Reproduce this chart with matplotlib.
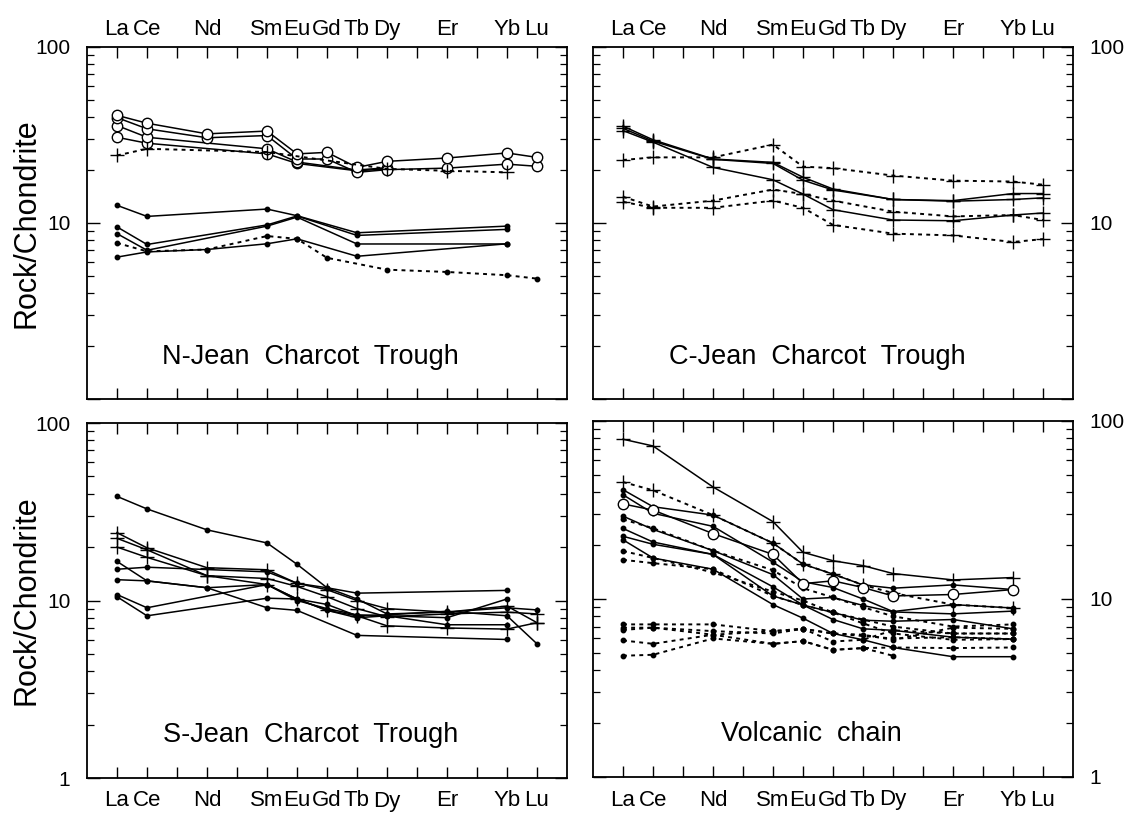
"""REE chondrite-normalised patterns for four Jean Charcot Trough groups."""

import matplotlib

matplotlib.use("Agg")

import matplotlib.pyplot as plt
from matplotlib.ticker import FixedLocator, NullFormatter

plt.rcParams["font.family"] = ["Liberation Sans", "DejaVu Sans"]

# element order used by every series below
elements = ["La", "Ce", "Nd", "Sm", "Eu", "Gd", "Tb", "Dy", "Er", "Yb", "Lu"]
atomic_numbers = [57, 58, 60, 62, 63, 64, 65, 66, 68, 70, 71]

# N-Jean Charcot Trough
north_open_1 = [40.9, 36.9, 32.1, 33.3, 24.7, 25.2, 20.7, 22.4, 23.4, 25.0, 23.6]
north_open_2 = [39.7, 34.3, 30.5, 31.4, 23.1, 23.1, 19.4, 20.1, 20.5, 21.6, 21.0]
north_open_3 = [35.8, 30.7, None, 26.4, 22.2, None, 20.0, 20.6, None, None, None]
north_open_4 = [30.7, 28.4, None, 24.7, 21.8, None, 19.8, 20.3, None, None, None]
north_plus = [24.2, 26.4, None, 25.3, None, None, None, 20.3, 19.8, 19.4, None]
north_dot_1 = [12.6, 10.9, None, 12.0, 11.0, None, 8.8, None, None, 9.6, None]
north_dot_2 = [9.5, 7.55, None, 9.75, 10.96, None, 8.5, None, None, 9.2, None]
north_dot_3 = [8.7, 7.0, None, 9.6, 10.8, None, 7.6, None, None, 7.6, None]
north_dot_4 = [6.4, 6.85, 7.07, 7.62, 8.13, None, 6.47, None, None, 7.62, None]
north_dash = [7.7, 6.9, 7.07, 8.43, 8.13, 6.34, None, 5.43, 5.27, 5.05, 4.83]

# C-Jean Charcot Trough
central_s1 = [35.5, 29.7, 23.1, 22.1, 18.2, 15.6, None, 13.6, 13.4, 14.7, 14.7]
central_s2 = [34.5, 29.2, 23.0, 21.8, 17.5, 15.4, None, 13.6, 13.3, 13.6, 13.9]
central_s3 = [33.5, 28.8, 20.7, 17.6, 14.6, 11.9, None, 10.4, 10.3, 11.1, 11.4]
central_d1 = [22.8, 23.6, 23.6, 27.9, 20.9, 20.5, None, 18.6, 17.4, 17.2, 16.5]
central_d2 = [14.1, 12.4, 13.4, 15.5, 14.6, 13.4, None, 11.6, 10.9, 11.1, 10.4]
central_d3 = [13.2, 12.2, 12.2, 13.4, 12.2, 9.75, None, 8.7, 8.5, 7.8, 8.1]

# S-Jean Charcot Trough
south_1 = [38.6, 32.8, 25.0, 21.1, 16.0, 11.8, 10.2, 8.4, 8.6, 9.1, 8.85]
south_2 = [24.1, 19.8, 15.3, 14.9, 12.5, 11.5, 10.0, 9.0, 8.6, 9.3, 7.5]
south_3 = [22.4, 19.3, 13.8, 13.3, 12.0, 10.5, 9.0, 8.1, 8.4, 8.6, 8.4]
south_4 = [20.0, 17.5, 13.8, 12.3, 10.2, 8.8, 8.2, 7.2, 7.0, 6.9, 7.5]
south_5 = [16.6, 12.9, 11.8, 9.1, 8.8, None, 6.36, None, None, 6.03, None]
south_6 = [15.0, 15.4, None, 14.5, 12.5, 11.8, 11.0, None, None, 11.4, None]
south_7 = [13.1, 12.9, 11.8, 12.3, 10.0, 9.0, 8.3, 8.2, 8.0, 10.2, None]
south_8 = [10.8, 9.1, None, 12.3, 10.2, 9.5, 8.2, 8.3, 8.7, 8.2, 5.7]
south_9 = [10.5, 8.2, None, 10.3, 10.2, 8.8, 8.0, 8.2, 7.3, 7.3, None]

# Volcanic chain
volc_plus = [79.0, 72.4, 42.6, 27.2, 18.3, 16.4, 15.4, 13.9, 12.8, 13.2, None]
volc_open = [34.2, 31.6, 23.3, 17.8, 12.2, 12.65, 11.6, 10.4, 10.6, 11.3, None]
volc_s1 = [41.1, 33.0, 29.6, 20.6, 15.7, 13.8, 12.0, 11.5, 12.0, 11.3, None]
volc_s2 = [38.5, 30.3, 25.6, 16.1, 12.5, 11.6, 10.0, 8.5, 9.3, 8.9, None]
volc_s3 = [29.2, 24.6, 18.7, 13.7, 10.0, 10.2, 9.2, 8.46, 8.25, 8.55, None]
volc_s4 = [24.9, 20.9, 17.8, 11.7, 9.25, 8.4, 7.6, 7.5, 7.67, 6.8, None]
volc_s5 = [22.5, 20.3, 17.8, 10.4, 9.25, 7.67, 6.8, 6.67, 6.1, 5.95, None]
volc_s6 = [21.5, 17.0, 14.7, 9.3, 7.8, 6.4, 5.9, 5.34, 4.74, 4.74, None]
volc_d1 = [45.4, 40.8, 29.6, 20.6, 15.7, 13.8, 12.0, 10.8, 9.3, 8.9, None]
volc_d2 = [28.0, 25.0, 18.7, 14.5, 11.5, 10.2, 9.0, 8.0, 7.0, 7.2, None]
volc_d3 = [18.6, 17.0, 14.1, 11.0, 9.8, 8.4, 7.67, 7.0, 6.4, 6.4, None]
volc_d4 = [16.6, 15.9, 14.7, 10.4, 9.25, 8.4, 7.3, 6.4, 5.9, 5.95, None]
volc_low_1 = [7.2, 7.2, 7.2, 6.6, 6.8, 6.4, 6.3, 5.9, 6.9, 6.8, None]
volc_low_2 = [6.9, 6.9, 6.6, 6.4, 6.8, 5.77, 5.9, 6.67, 6.4, 6.4, None]
volc_low_3 = [6.7, 6.9, 6.3, 6.6, 6.8, 6.4, None, 6.0, 6.1, 5.95, None]
volc_low_4 = [5.85, 5.6, 6.3, 5.6, 5.8, 5.18, 5.3, 5.34, 5.3, 5.34, None]
volc_low_5 = [4.8, 4.86, 6.0, 5.6, 5.8, 5.18, 5.3, 4.8, None, None, None]

DOTTED = (0, (2.0, 2.2))

# marker / line style shortcuts
OPEN = dict(marker="o", ms=7.5, mfc="white", mec="black", mew=1.0)
DOT = dict(marker="o", ms=3.2, mfc="black", mec="black")
PLUS = dict(marker="+", ms=10, mew=1.0)


def draw(ax, values, style, ls="-"):
    xs = [z for z, v in zip(atomic_numbers, values) if v is not None]
    ys = [v for v in values if v is not None]
    ax.plot(xs, ys, color="black", lw=1.1 if ls == "-" else 1.4, ls=ls, **style)


def setup(ax, top_row, left_col, title, title_x):
    ax.set_yscale("log")
    ax.set_ylim(1, 100)
    ax.set_xlim(56, 72)
    ax.set_xticks(range(57, 72))
    labels = []
    for z in range(57, 72):
        labels.append(elements[atomic_numbers.index(z)] if z in atomic_numbers else "")
    ax.set_xticklabels(labels, fontsize=16)
    ax.tick_params(axis="x", which="major", direction="in", length=8, width=1.0,
                   top=True, bottom=True, labeltop=top_row, labelbottom=not top_row,
                   pad=5 if top_row else 9)
    ax.yaxis.set_major_locator(FixedLocator([1, 10, 100]))
    ax.set_yticklabels(["" if top_row else "1", "10", "100"], fontsize=15)
    ax.yaxis.set_minor_formatter(NullFormatter())
    ax.tick_params(axis="y", which="major", direction="in", length=9, width=1.0,
                   left=True, right=True, labelleft=left_col, labelright=not left_col, pad=12)
    ax.tick_params(axis="y", which="minor", direction="in", length=5, width=0.9,
                   left=True, right=True)
    for spine in ax.spines.values():
        spine.set_linewidth(1.3)
    ax.text(title_x, 0.12, title, transform=ax.transAxes, ha="center", va="center",
            fontsize=19.5)


def main() -> None:
    fig = plt.figure(figsize=(11.32, 8.16), dpi=100)
    W, H = 1132.0, 816.0
    ax_n = fig.add_axes([87 / W, 1 - 399 / H, 480 / W, 352 / H])
    ax_c = fig.add_axes([593 / W, 1 - 399 / H, 480 / W, 352 / H])
    ax_s = fig.add_axes([87 / W, 1 - 778 / H, 480 / W, 355 / H])
    ax_v = fig.add_axes([593 / W, 1 - 777 / H, 480 / W, 356 / H])

    # north
    for series in [north_open_4, north_open_3, north_open_2, north_open_1]:
        draw(ax_n, series, OPEN)
    draw(ax_n, north_plus, PLUS, DOTTED)
    for series in [north_dot_1, north_dot_2, north_dot_3, north_dot_4]:
        draw(ax_n, series, DOT)
    draw(ax_n, north_dash, DOT, DOTTED)
    setup(ax_n, True, True, "N-Jean  Charcot  Trough", 0.465)

    # central
    for series in [central_s1, central_s2, central_s3]:
        draw(ax_c, series, PLUS)
    for series in [central_d1, central_d2, central_d3]:
        draw(ax_c, series, PLUS, DOTTED)
    setup(ax_c, True, False, "C-Jean  Charcot  Trough", 0.467)

    # south
    for series in [south_2, south_3, south_4]:
        draw(ax_s, series, PLUS)
    for series in [south_1, south_5, south_6, south_7, south_8, south_9]:
        draw(ax_s, series, DOT)
    setup(ax_s, False, True, "S-Jean  Charcot  Trough", 0.465)

    # volcanic chain
    draw(ax_v, volc_plus, PLUS)
    for series in [volc_s1, volc_s2, volc_s3, volc_s4, volc_s5, volc_s6]:
        draw(ax_v, series, DOT)
    draw(ax_v, volc_d1, PLUS, DOTTED)
    for series in [volc_d2, volc_d3, volc_d4, volc_low_1, volc_low_2,
                   volc_low_3, volc_low_4, volc_low_5]:
        draw(ax_v, series, DOT, DOTTED)
    draw(ax_v, volc_open, OPEN)
    setup(ax_v, False, False, "Volcanic  chain", 0.455)

    # shared y label, one per row
    for y_mid in [(47 + 399) / 2, (423 + 778) / 2]:
        fig.text(27 / W, 1 - y_mid / H, "Rock/Chondrite", rotation=90,
                 ha="center", va="center", fontsize=22)

    fig.savefig("out.png", dpi=100)
    plt.close(fig)


if __name__ == "__main__":
    main()
